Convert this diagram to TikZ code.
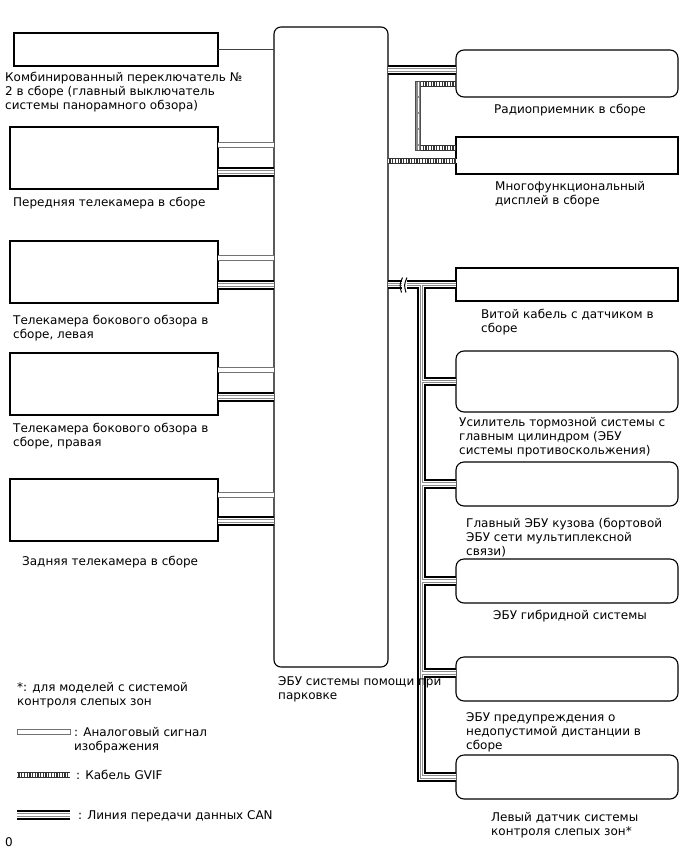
\documentclass[tikz,border=0pt]{standalone}
\usepackage{fontspec}
\setmainfont{DejaVu Sans}
\begin{document}
\begin{tikzpicture}[x=1bp,y=-1bp,
  bx/.style={draw, line width=1.1bp, anchor=north west, inner sep=0, outer sep=0},
  rbx/.style={bx, rounded corners=8bp},
  lbl/.style={font=\fontsize{12bp}{14.4bp}\selectfont, inner sep=0, align=left, anchor=base west},
  lblc/.style={font=\fontsize{12bp}{14.4bp}\selectfont, inner sep=0, align=center, anchor=base},
  canA/.style={line width=9.5bp, black, line join=miter},
  canB/.style={line width=5.5bp, white, line join=miter},
  canC/.style={line width=3.5bp, black!45, line join=miter},
  canD/.style={line width=1.3bp, white, line join=miter},
  anA/.style={line width=6.5bp, black!55},
  anB/.style={line width=4.5bp, white},
  gvA/.style={line width=6.5bp, black!80},
  gvB/.style={line width=4.5bp, white, dash pattern=on 1.4bp off 1.3bp},
]
\useasboundingbox (0,0) rectangle (688,852);

% left boxes
\node[bx, minimum width=204bp, minimum height=33bp] (b1) at (14,33) {};
\node[bx, minimum width=208bp, minimum height=62bp] (b2) at (10,127) {};
\node[bx, minimum width=208bp, minimum height=62bp] (b3) at (10,241) {};
\node[bx, minimum width=208bp, minimum height=62bp] (b4) at (10,353) {};
\node[bx, minimum width=208bp, minimum height=62bp] (b5) at (10,479) {};
% ECU
\node[bx, rounded corners=7bp, minimum width=114bp, minimum height=640bp] (ecu) at (274,27) {};
% right boxes
\node[rbx, minimum width=222bp, minimum height=47bp] (r1) at (456,50) {};
\node[bx, minimum width=222bp, minimum height=37bp] (r2) at (456,137) {};
\node[bx, minimum width=222bp, minimum height=33bp] (r3) at (456,268) {};
\node[rbx, minimum width=222bp, minimum height=61bp] (r4) at (456,351) {};
\node[rbx, minimum width=222bp, minimum height=44bp] (r5) at (456,462) {};
\node[rbx, minimum width=222bp, minimum height=44bp] (r6) at (456,559) {};
\node[rbx, minimum width=222bp, minimum height=44bp] (r7) at (456,657) {};
\node[rbx, minimum width=222bp, minimum height=44bp] (r8) at (456,755) {};

% b1 -> ecu thin line
\draw[line width=0.9bp, black!75] (b1.east) -- (b1.east -| ecu.west);

% analog lines
\foreach \s in {anA,anB}{
  \draw[\s] ([yshift=13bp]b2.east) -- ([yshift=13bp]b2.east -| ecu.west)
            ([yshift=14bp]b3.east) -- ([yshift=14bp]b3.east -| ecu.west)
            ([yshift=14bp]b4.east) -- ([yshift=14bp]b4.east -| ecu.west)
            ([yshift=15bp]b5.east) -- ([yshift=15bp]b5.east -| ecu.west);
}

% bus coordinate
\coordinate (bt) at (421.5,285);
% CAN lines
\foreach \s in {canA,canB,canC,canD}{
  \draw[\s] ([yshift=-14bp]b2.east) -- ([yshift=-14bp]b2.east -| ecu.west)
            ([yshift=-13bp]b3.east) -- ([yshift=-13bp]b3.east -| ecu.west)
            ([yshift=-13bp]b4.east) -- ([yshift=-13bp]b4.east -| ecu.west)
            ([yshift=-11bp]b5.east) -- ([yshift=-11bp]b5.east -| ecu.west)
            ([yshift=3.5bp]r1.west -| ecu.east) -- ([yshift=3.5bp]r1.west)
            (r3.west -| ecu.east) -- (r3.west)
            (bt) -- (bt |- r8.west) -- (r8.west)
            (bt |- r4.west) -- (r4.west)
            (bt |- r5.west) -- (r5.west)
            (bt |- r6.west) -- (r6.west)
            ([yshift=6bp]r7.west -| bt) -- ([yshift=6bp]r7.west);
}
% break mark
\fill[white] (401.5,278) -- (406.5,278) -- (406.5,292) -- (401.5,292) -- cycle;
\draw[line width=1bp] (402.5,277.5) .. controls (399.5,285) .. (401.5,292.5);
\draw[line width=1bp] (407,277.5) .. controls (404,285) .. (406,292.5);

% GVIF loop r1 -> r2
\coordinate (g1) at ([yshift=-10.5bp]r1.west -| 418,0);
\coordinate (g2) at ([yshift=7.5bp]r2.west -| 418,0);
\draw[line width=6.5bp, black!70] ([yshift=3.25bp]g1) -- ([yshift=-3.25bp]g2);
\draw[line width=3.5bp, black!45] ([yshift=2bp]g1) -- ([yshift=-2bp]g2);
\draw[line width=0.9bp, white, dash pattern=on 14bp off 2bp] ([yshift=2bp]g1) -- ([yshift=-2bp]g2);
\foreach \s in {gvA,gvB}{
  \draw[\s] ([xshift=3.25bp]g1) -- ([yshift=-10.5bp]r1.west)
            ([xshift=3.25bp]g2) -- ([yshift=7.5bp]r2.west)
            ([yshift=-5.5bp]r2.west -| ecu.east) -- ([yshift=-5.5bp]r2.west);
}

% labels (base = baseline of last line)
\node[lbl] (t1) at (5,109.8) {Комбинированный переключатель №\\2 в сборе (главный выключатель\\системы панорамного обзора)};
\node[lbl] (t2) at (13,206) {Передняя телекамера в сборе};
\node[lbl] (t3) at (13,338.4) {Телекамера бокового обзора в\\сборе, левая};
\node[lbl] (t4) at (13,446.4) {Телекамера бокового обзора в\\сборе, правая};
\node[lbl] (t5) at (22,565) {Задняя телекамера в сборе};
\node[lbl] (te) at (278,699.4) {ЭБУ системы помощи при\\парковке};
\node[lblc] (tr1) at (570,113) {Радиоприемник в сборе};
\node[lbl] (tr2) at (495,204.4) {Многофункциональный\\дисплей в сборе};
\node[lbl] (tr3) at (481,332.4) {Витой кабель с датчиком в\\сборе};
\node[lbl] (tr4) at (459,454.8) {Усилитель тормозной системы с\\главным цилиндром (ЭБУ\\системы противоскольжения)};
\node[lbl] (tr5) at (466,555.8) {Главный ЭБУ кузова (бортовой\\ЭБУ сети мультиплексной\\связи)};
\node[lblc] (tr6) at (570,619) {ЭБУ гибридной системы};
\node[lbl] (tr7) at (466,749.8) {ЭБУ предупреждения о\\недопустимой дистанции в\\сборе};
\node[lbl] (tr8) at (491,835.4) {Левый датчик системы\\контроля слепых зон*};

% legend
\node[lbl] (lg0) at (17,705.4) {*: для моделей с системой\\контроля слепых зон};
\draw[line width=1bp, black!55] (17,729.5) rectangle (70,734.5);
\node[lbl] (lg1) at (74,750.4) {: Аналоговый сигнал\\изображения};
\coordinate (ga) at (17,775);
\coordinate (gb) at (70,775);
\foreach \s in {gvA,gvB}{ \draw[\s] (ga) -- (gb); }
\node[lbl] (lg2) at (76,779) {: Кабель GVIF};
\coordinate (ca) at (17,815);
\coordinate (cb) at (70,815);
\foreach \s in {canA,canB,canC,canD}{ \draw[\s] (ca) -- (cb); }
\node[lbl] (lg3) at (78,819) {: Линия передачи данных CAN};
\node[lbl] (zero) at (5,846) {0};
\end{tikzpicture}
\end{document}
